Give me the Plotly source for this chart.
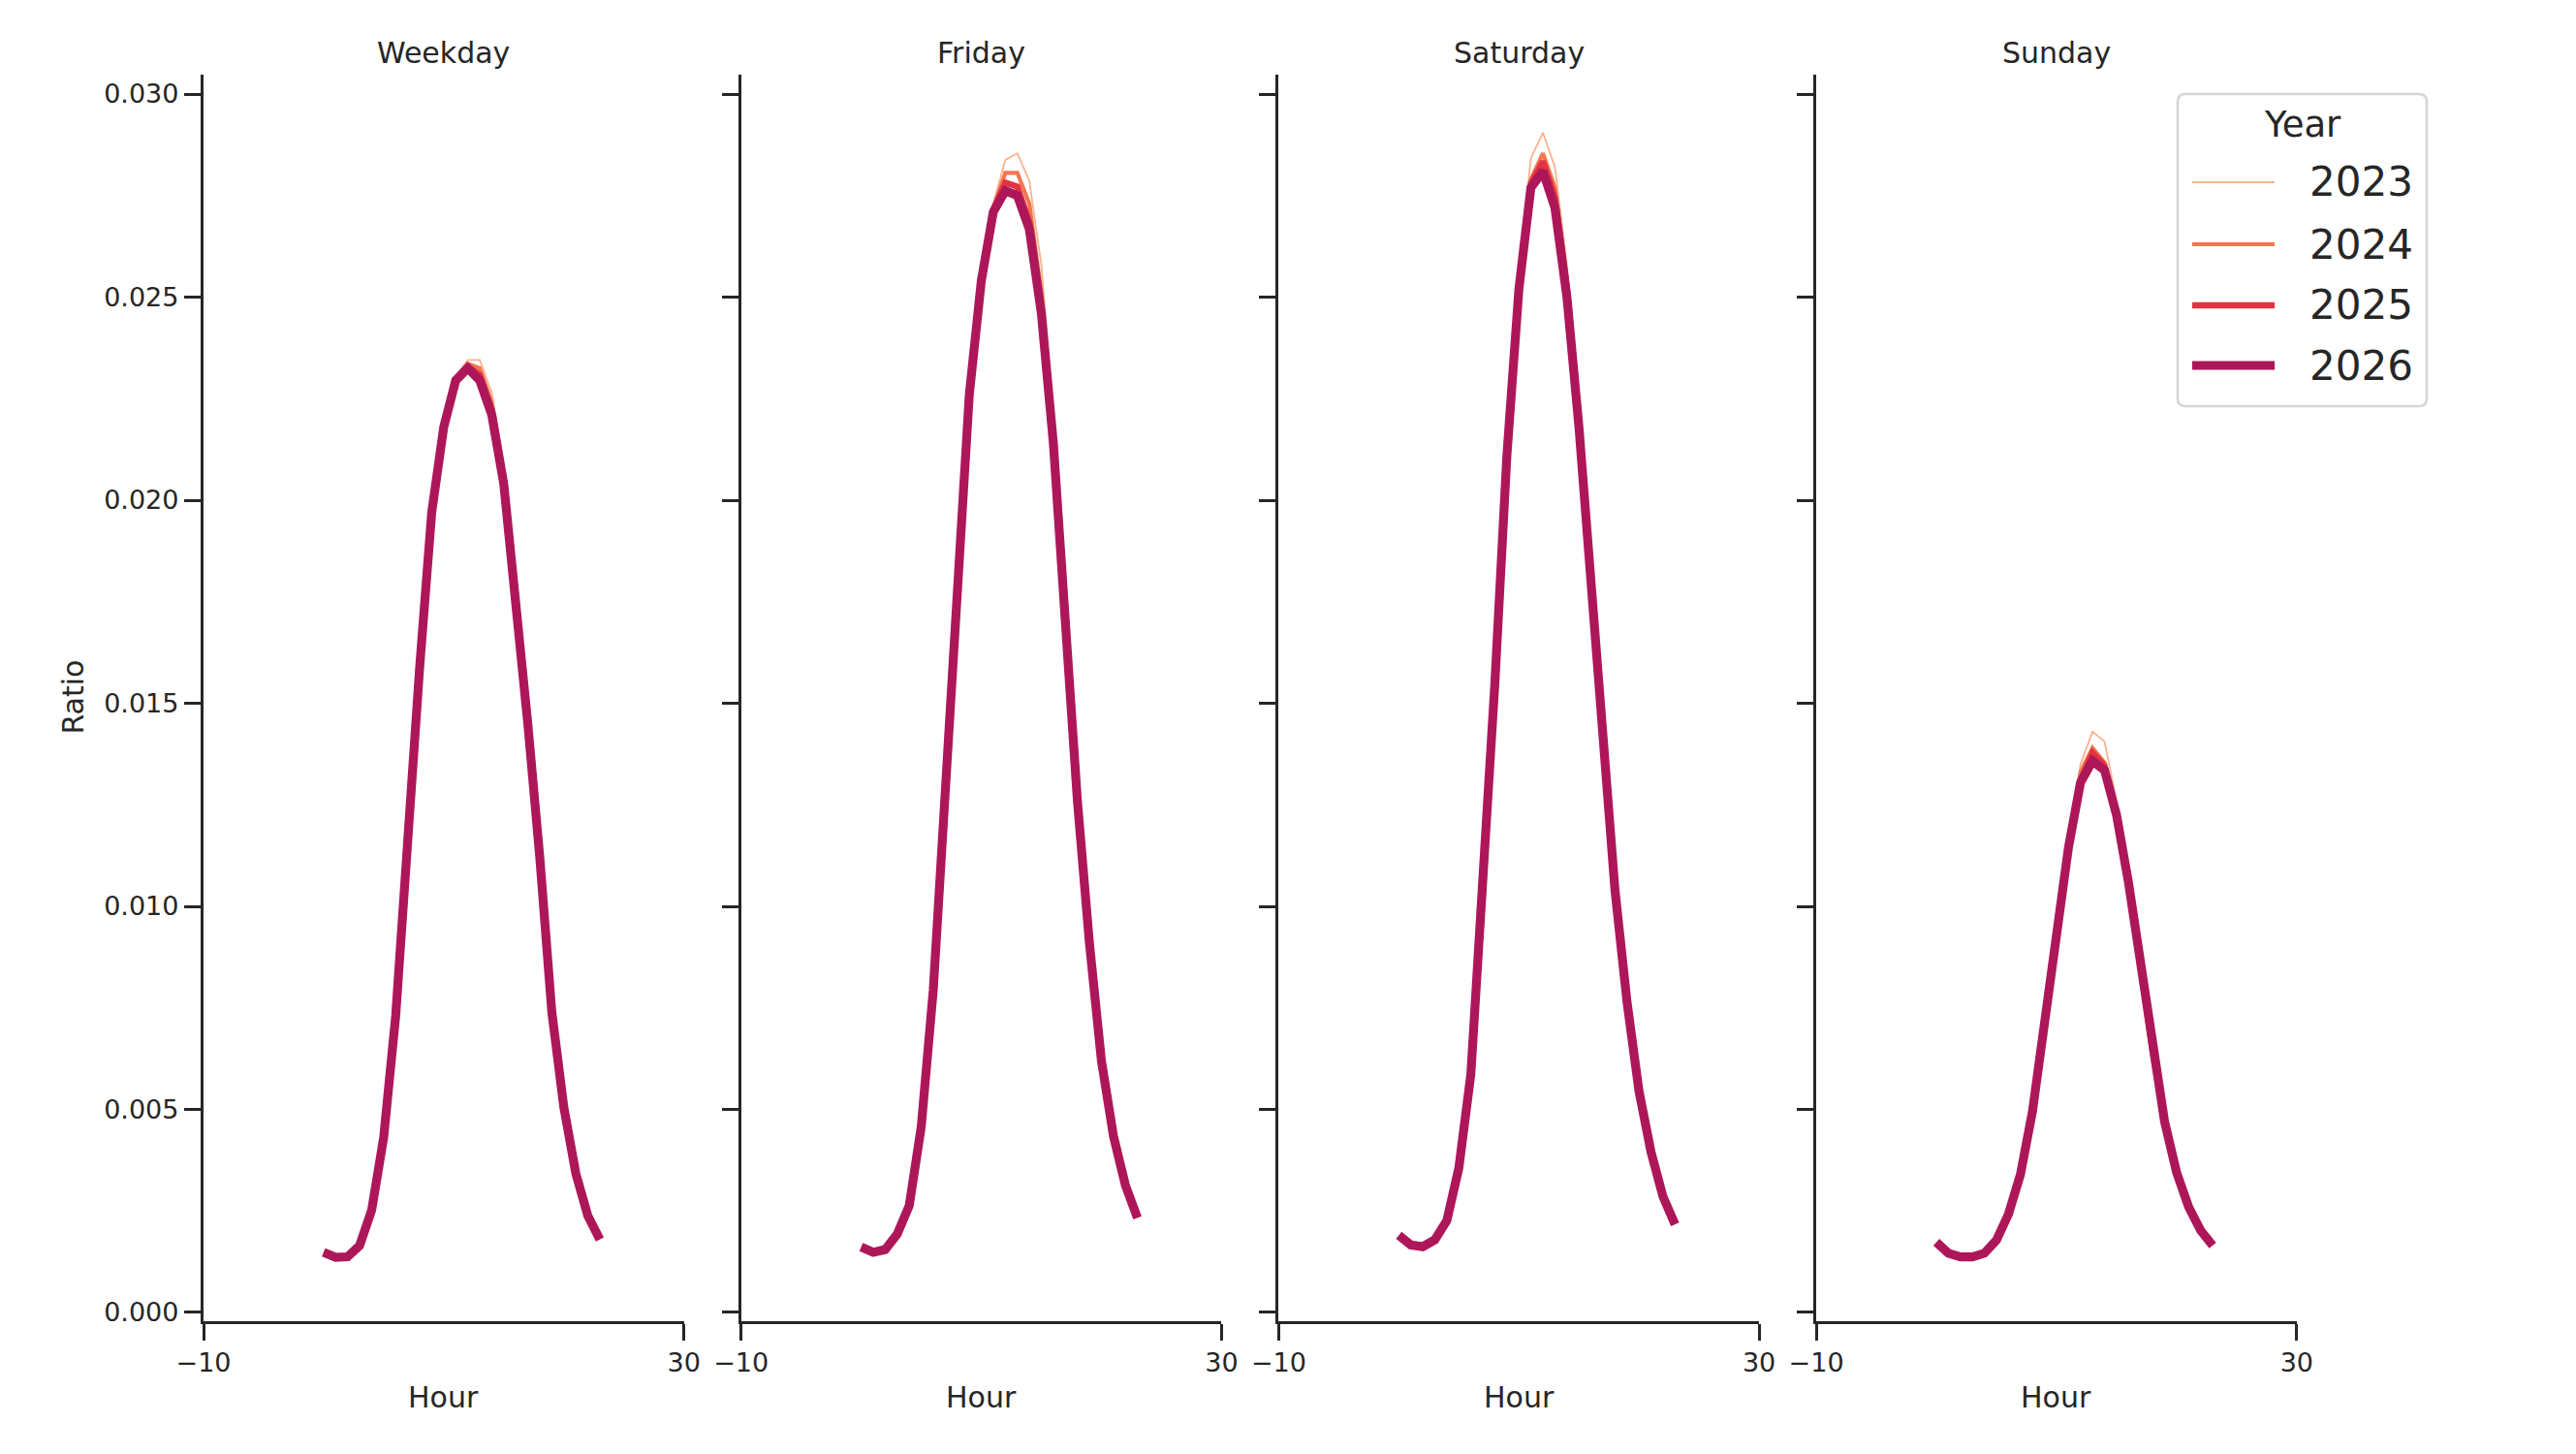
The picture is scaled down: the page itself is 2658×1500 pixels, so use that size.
import plotly.graph_objects as go
from plotly.subplots import make_subplots

# --- data ----------------------------------------------------------------
HOURS = list(range(24))
YEARS = ["2023", "2024", "2025", "2026"]
PANELS = ["Weekday", "Friday", "Saturday", "Sunday"]

X_TICKS = [-10, 30]
X_TICK_TEXT = ["\u221210", "30"]
Y_TICKS = [0.0, 0.005, 0.010, 0.015, 0.020, 0.025, 0.030]

weekday_2023 = [0.00145, 0.00133, 0.00134, 0.00162, 0.00249, 0.00429, 0.00729, 0.01190,
                0.01590, 0.01970, 0.02185, 0.02305, 0.02345, 0.02345, 0.02265, 0.02085,
                0.01790, 0.01470, 0.01130, 0.00746, 0.00510, 0.00346, 0.00242, 0.00183]
weekday_2024 = [0.00146, 0.00134, 0.00135, 0.00163, 0.00250, 0.00430, 0.00730, 0.01190,
                0.01590, 0.01970, 0.02180, 0.02300, 0.02336, 0.02325, 0.02240, 0.02065,
                0.01778, 0.01462, 0.01126, 0.00744, 0.00508, 0.00345, 0.00240, 0.00182]
weekday_2025 = [0.00147, 0.00135, 0.00136, 0.00164, 0.00251, 0.00430, 0.00730, 0.01190,
                0.01590, 0.01970, 0.02180, 0.02298, 0.02330, 0.02308, 0.02222, 0.02050,
                0.01768, 0.01455, 0.01122, 0.00742, 0.00506, 0.00343, 0.00239, 0.00181]
weekday_2026 = [0.00148, 0.00136, 0.00137, 0.00165, 0.00252, 0.00431, 0.00730, 0.01190,
                0.01590, 0.01970, 0.02180, 0.02295, 0.02325, 0.02295, 0.02210, 0.02040,
                0.01760, 0.01450, 0.01120, 0.00740, 0.00505, 0.00342, 0.00238, 0.00180]

friday_2023 = [0.00158, 0.00145, 0.00152, 0.00190, 0.00260, 0.00455, 0.00790, 0.01290,
               0.01805, 0.02270, 0.02560, 0.02730, 0.02838, 0.02854, 0.02786, 0.02580,
               0.02210, 0.01730, 0.01272, 0.00916, 0.00624, 0.00438, 0.00316, 0.00236]
friday_2024 = [0.00159, 0.00146, 0.00153, 0.00191, 0.00261, 0.00456, 0.00792, 0.01290,
               0.01802, 0.02265, 0.02550, 0.02720, 0.02806, 0.02806, 0.02730, 0.02510,
               0.02170, 0.01715, 0.01266, 0.00913, 0.00622, 0.00437, 0.00315, 0.00235]
friday_2025 = [0.00160, 0.00147, 0.00154, 0.00192, 0.00262, 0.00457, 0.00793, 0.01290,
               0.01800, 0.02262, 0.02545, 0.02715, 0.02782, 0.02772, 0.02685, 0.02475,
               0.02150, 0.01705, 0.01262, 0.00911, 0.00621, 0.00436, 0.00314, 0.00234]
friday_2026 = [0.00161, 0.00148, 0.00155, 0.00193, 0.00263, 0.00458, 0.00794, 0.01290,
               0.01800, 0.02260, 0.02540, 0.02710, 0.02762, 0.02750, 0.02667, 0.02460,
               0.02140, 0.01700, 0.01260, 0.00910, 0.00620, 0.00435, 0.00313, 0.00233]

saturday_2023 = [0.00184, 0.00159, 0.00155, 0.00174, 0.00222, 0.00352, 0.00583, 0.01030,
                 0.01560, 0.02130, 0.02570, 0.02842, 0.02905, 0.02820, 0.02580, 0.02240,
                 0.01830, 0.01440, 0.01050, 0.00770, 0.00549, 0.00398, 0.00288, 0.00220]
saturday_2024 = [0.00186, 0.00162, 0.00158, 0.00176, 0.00224, 0.00354, 0.00585, 0.01030,
                 0.01555, 0.02120, 0.02540, 0.02790, 0.02854, 0.02770, 0.02540, 0.02210,
                 0.01810, 0.01430, 0.01045, 0.00768, 0.00547, 0.00397, 0.00287, 0.00219]
saturday_2025 = [0.00188, 0.00164, 0.00160, 0.00177, 0.00225, 0.00355, 0.00586, 0.01030,
                 0.01552, 0.02115, 0.02530, 0.02780, 0.02834, 0.02745, 0.02520, 0.02200,
                 0.01800, 0.01425, 0.01042, 0.00766, 0.00546, 0.00396, 0.00286, 0.00218]
saturday_2026 = [0.00190, 0.00166, 0.00162, 0.00179, 0.00226, 0.00356, 0.00587, 0.01030,
                 0.01550, 0.02110, 0.02520, 0.02770, 0.02810, 0.02720, 0.02500, 0.02180,
                 0.01790, 0.01420, 0.01040, 0.00765, 0.00545, 0.00395, 0.00285, 0.00217]

sunday_2023 = [0.00167, 0.00140, 0.00130, 0.00128, 0.00138, 0.00173, 0.00239, 0.00340,
               0.00498, 0.00708, 0.00950, 0.01155, 0.01350, 0.01430, 0.01406, 0.01260,
               0.01080, 0.00868, 0.00647, 0.00474, 0.00348, 0.00263, 0.00205, 0.00168]
sunday_2024 = [0.00169, 0.00142, 0.00133, 0.00132, 0.00142, 0.00175, 0.00240, 0.00340,
               0.00497, 0.00705, 0.00946, 0.01150, 0.01330, 0.01390, 0.01354, 0.01240,
               0.01068, 0.00863, 0.00644, 0.00472, 0.00347, 0.00262, 0.00204, 0.00167]
sunday_2025 = [0.00171, 0.00144, 0.00135, 0.00135, 0.00144, 0.00177, 0.00241, 0.00340,
               0.00496, 0.00702, 0.00943, 0.01148, 0.01310, 0.01378, 0.01346, 0.01230,
               0.01062, 0.00860, 0.00642, 0.00471, 0.00346, 0.00261, 0.00203, 0.00166]
sunday_2026 = [0.00173, 0.00146, 0.00137, 0.00137, 0.00146, 0.00178, 0.00242, 0.00340,
               0.00495, 0.00700, 0.00940, 0.01145, 0.01305, 0.01358, 0.01335, 0.01225,
               0.01058, 0.00858, 0.00640, 0.00470, 0.00345, 0.00260, 0.00202, 0.00165]

SERIES = {
    "Weekday": [weekday_2023, weekday_2024, weekday_2025, weekday_2026],
    "Friday": [friday_2023, friday_2024, friday_2025, friday_2026],
    "Saturday": [saturday_2023, saturday_2024, saturday_2025, saturday_2026],
    "Sunday": [sunday_2023, sunday_2024, sunday_2025, sunday_2026],
}

# --- style ---------------------------------------------------------------
W, H = 2658, 1500
COLORS = ["#f6b48f", "#f37651", "#e13342", "#ad1759"]   # rocket_r
WIDTHS = [1.8, 4.2, 6.4, 9.2]
INK = "#262626"
FONT = "DejaVu Sans"

# panel boxes in page pixels
PANEL_LEFT = [210, 764.7, 1319.4, 1874.1]
PANEL_W = 495.7
PLOT_TOP, PLOT_BOTTOM = 76.5, 1362.7


def px(x):
    return x / W


def py(y):
    return 1 - y / H


def label(text, x, y, size, xanchor="center", angle=0):
    return dict(text=text, x=px(x), y=py(y), xref="paper", yref="paper",
                xanchor=xanchor, yanchor="middle", textangle=angle,
                showarrow=False, font=dict(family=FONT, size=size, color=INK))


# 1. line panels
def create_figure():

    fig = make_subplots(rows=1, cols=4, shared_yaxes=True)

    for col, panel in enumerate(PANELS, start=1):
        for i, year in enumerate(YEARS):
            fig.add_trace(
                go.Scatter(
                    x=HOURS,
                    y=SERIES[panel][i],
                    mode="lines",
                    name=year,
                    legendgroup=year,
                    showlegend=False,
                    line=dict(color=COLORS[i], width=WIDTHS[i]),
                ),
                row=1,
                col=col
            )

    axis_style = dict(
        showline=True, linewidth=3.3, linecolor=INK,
        ticks="outside", ticklen=17, tickwidth=3.3, tickcolor=INK,
        showgrid=False, zeroline=False, automargin=False,
        tickfont=dict(family=FONT, size=27, color=INK),
    )

    for col in range(1, 5):
        left = PANEL_LEFT[col - 1]
        fig.update_xaxes(
            domain=[px(left), px(left + PANEL_W)],
            range=[-10, 30],
            tickvals=X_TICKS,
            ticktext=X_TICK_TEXT,
            row=1, col=col, **axis_style
        )
        fig.update_yaxes(
            domain=[py(PLOT_BOTTOM), py(PLOT_TOP)],
            range=[-0.000208, 0.03049],
            tickvals=Y_TICKS,
            tickformat=".3f",
            row=1, col=col, **axis_style
        )

    # panel titles and axis labels
    notes = []
    for col, panel in enumerate(PANELS):
        cx = PANEL_LEFT[col] + PANEL_W / 2
        notes.append(label(panel, cx, 55, 30))
        notes.append(label("Hour", cx, 1441, 30))
    notes.append(label("Ratio", 76, (PLOT_TOP + PLOT_BOTTOM) / 2, 30, angle=-90))

    # legend drawn by hand (long line keys like the original)
    x0, x1, y0, y1, r = 2247, 2504, 97, 419, 8
    box = (f"M {px(x0 + r)},{py(y0)} L {px(x1 - r)},{py(y0)} "
           f"Q {px(x1)},{py(y0)} {px(x1)},{py(y0 + r)} "
           f"L {px(x1)},{py(y1 - r)} Q {px(x1)},{py(y1)} {px(x1 - r)},{py(y1)} "
           f"L {px(x0 + r)},{py(y1)} Q {px(x0)},{py(y1)} {px(x0)},{py(y1 - r)} "
           f"L {px(x0)},{py(y0 + r)} Q {px(x0)},{py(y0)} {px(x0 + r)},{py(y0)} Z")
    shapes = [dict(type="path", path=box, xref="paper", yref="paper",
                   line=dict(color="#d6d6d6", width=2.7), fillcolor="white")]

    notes.append(label("Year", 2375.5, 128, 37))
    row_y = [188, 252, 315, 377]
    for i, year in enumerate(YEARS):
        shapes.append(dict(type="line", xref="paper", yref="paper",
                           x0=px(2262), x1=px(2347), y0=py(row_y[i]), y1=py(row_y[i]),
                           line=dict(color=COLORS[i], width=WIDTHS[i])))
        notes.append(label(year, 2381, row_y[i], 42, xanchor="left"))

    fig.update_layout(
        width=W,
        height=H,
        autosize=False,
        margin=dict(l=0, r=0, t=0, b=0),
        paper_bgcolor="white",
        plot_bgcolor="white",
        showlegend=False,
        annotations=notes,
        shapes=shapes,
        font=dict(family=FONT, color=INK),
    )

    return fig


if __name__ == "__main__":

    fig = create_figure()
    fig.write_html(
        "out.html",
        config={"displayModeBar": False},
        post_script="document.body.style.margin='0';"
    )
